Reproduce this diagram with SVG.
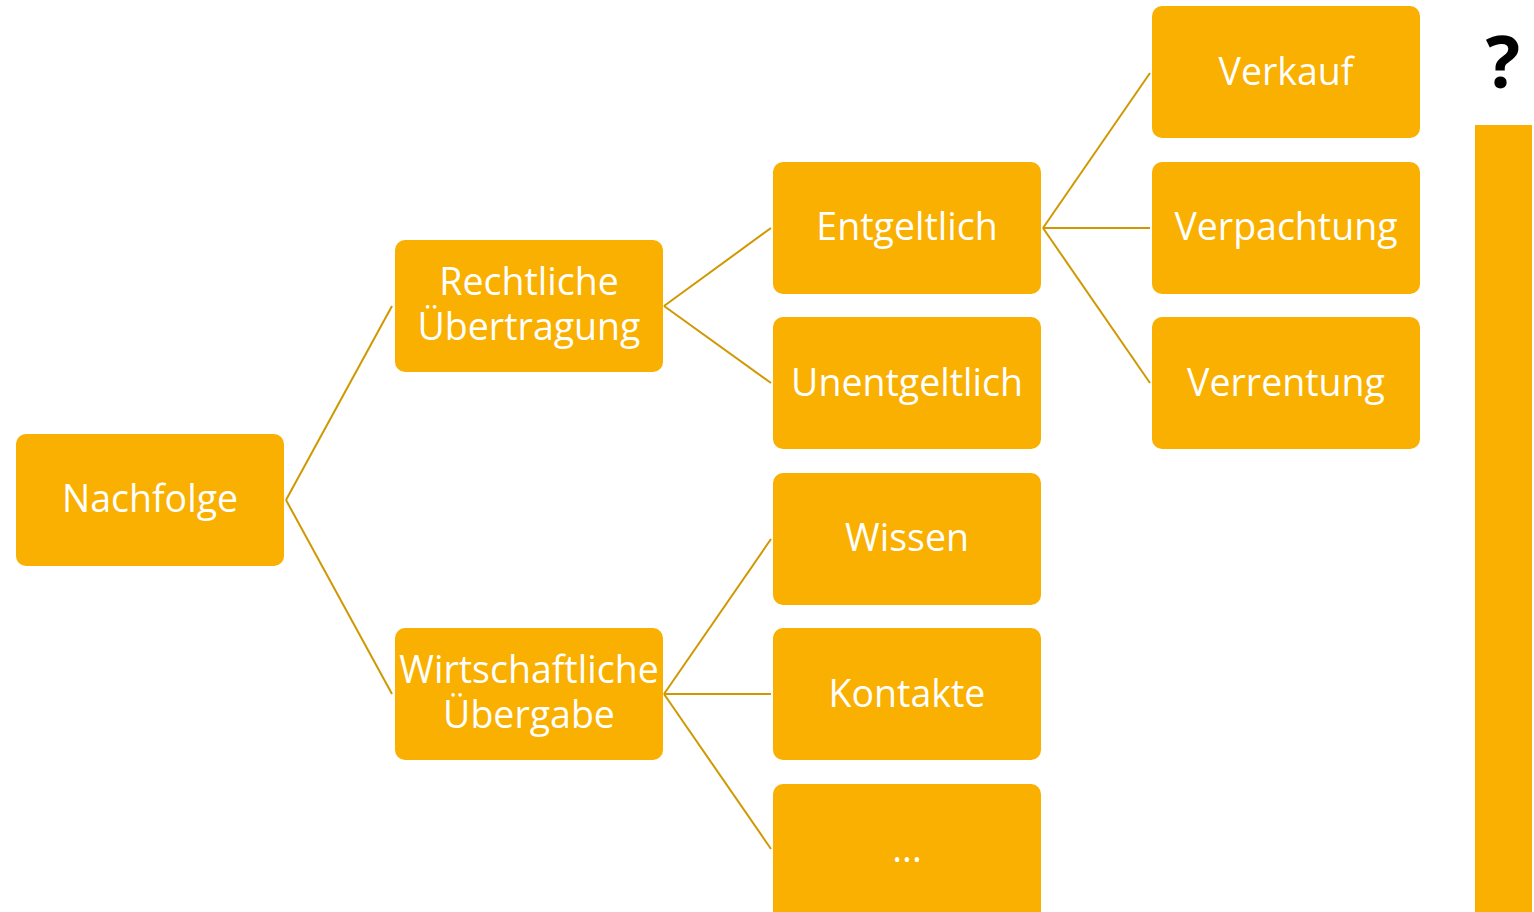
<svg xmlns="http://www.w3.org/2000/svg" width="1534" height="912" viewBox="0 0 1534 912">
<style>
.n rect{fill:#F9B000;}
.n text{fill:#FFFFFF;font-family:"Open Sans","Noto Sans",sans-serif;font-size:37.5px;text-anchor:middle;}
#connectors line{stroke:#D09800;stroke-width:2;}
</style>
<rect width="1534" height="912" fill="#FFFFFF"/>
<g id="connectors">
<line x1="286" y1="500" x2="392" y2="306"/>
<line x1="286" y1="500" x2="392" y2="694"/>
<line x1="664" y1="306" x2="771" y2="228"/>
<line x1="664" y1="306" x2="771" y2="383"/>
<line x1="664" y1="694" x2="771" y2="539"/>
<line x1="664" y1="694" x2="771" y2="694"/>
<line x1="664" y1="694" x2="771" y2="849"/>
<line x1="1043" y1="228" x2="1150" y2="73"/>
<line x1="1043" y1="228" x2="1150" y2="228"/>
<line x1="1043" y1="228" x2="1150" y2="383"/>
</g>
<g id="nachfolge" class="n"><rect x="16" y="434" width="268" height="132" rx="10"/><text x="150" y="512">Nachfolge</text></g>
<g id="rechtliche" class="n"><rect x="395" y="240" width="268" height="132" rx="10"/><text x="529" y="295">Rechtliche</text><text x="529" y="340">Übertragung</text></g>
<g id="wirtschaftliche" class="n"><rect x="395" y="628" width="268" height="132" rx="10"/><text x="529" y="683">Wirtschaftliche</text><text x="529" y="728">Übergabe</text></g>
<g id="entgeltlich" class="n"><rect x="773" y="162" width="268" height="132" rx="10"/><text x="907" y="240">Entgeltlich</text></g>
<g id="unentgeltlich" class="n"><rect x="773" y="317" width="268" height="132" rx="10"/><text x="907" y="396">Unentgeltlich</text></g>
<g id="wissen" class="n"><rect x="773" y="473" width="268" height="132" rx="10"/><text x="907" y="551">Wissen</text></g>
<g id="kontakte" class="n"><rect x="773" y="628" width="268" height="132" rx="10"/><text x="907" y="707">Kontakte</text></g>
<g id="more" class="n"><rect x="773" y="784" width="268" height="140" rx="10"/><text x="907" y="862">...</text></g>
<g id="verkauf" class="n"><rect x="1152" y="6" width="268" height="132" rx="10"/><text x="1286" y="85">Verkauf</text></g>
<g id="verpachtung" class="n"><rect x="1152" y="162" width="268" height="132" rx="10"/><text x="1286" y="240">Verpachtung</text></g>
<g id="verrentung" class="n"><rect x="1152" y="317" width="268" height="132" rx="10"/><text x="1286" y="396">Verrentung</text></g>
<g id="scale">
<rect x="1475" y="125" width="57" height="800" fill="#F9B000"/>
<text x="1503" y="88" font-family="Open Sans, Noto Sans, sans-serif" font-size="72" font-weight="bold" text-anchor="middle" fill="#000000">?</text>
</g>
</svg>
